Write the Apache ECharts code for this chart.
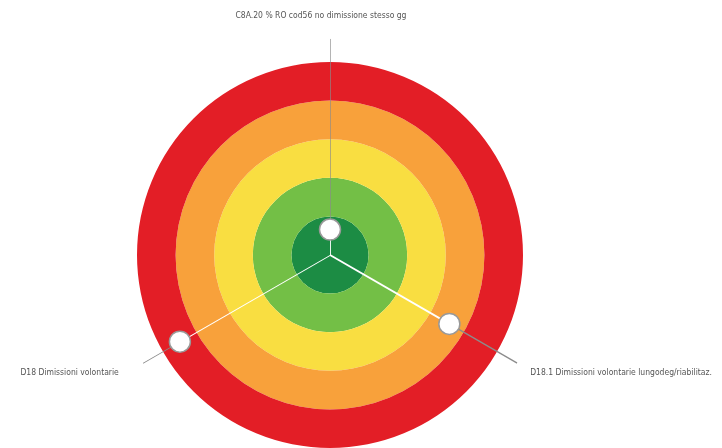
<!DOCTYPE html>
<html>
<head>
<meta charset="utf-8">
<script src="https://cdn.jsdelivr.net/npm/echarts@6/dist/echarts.min.js"></script>
<style>
	html, body { margin: 0; padding: 0; background: #fff; }
	#chart { width: 722px; height: 448px; }
</style>
</head>
<body>
<div id="chart"></div>
<script>
// indicators, clockwise from the top
var indicators = [
	"C8A.20 % RO cod56 no dimissione stesso gg",
	"D18.1 Dimissioni volontarie lungodeg/riabilitaz.",
	"D18 Dimissioni volontarie",
];
var values = [0.66, 3.57, 4.49];
// target bands, inner to outer
var bandColors = ["#1c8c44", "#73bf46", "#f9de41", "#f8a13b", "#e31e26"];
var bandMax = 5;
var leaderEnd = 5.6;

var chartDom = document.getElementById("chart");
var myChart = echarts.init(chartDom);

var labelFont = {
	fontFamily: "'Liberation Sans Narrow', 'DejaVu Sans Condensed', sans-serif",
	fontSize: 8.5,
	color: '#555',
};
var labelPos = [
	{ position: 'top', distance: 19, offset: [-9, 0] },
	{ position: 'right', distance: 13, offset: [0, 10] },
	{ position: 'left', distance: 24, offset: [0, 10] },
];

var series = [];
for (var i = 0; i < indicators.length; i++) {
	// white spoke from centre to the value
	series.push({
		type: 'line',
		coordinateSystem: 'polar',
		symbol: 'none',
		silent: true,
		clip: false,
		lineStyle: { color: '#fff', width: 1.8 },
		data: [[0, i], [values[i], i]],
		z: 2,
	});
	// grey leader from the value out to the label
	series.push({
		type: 'line',
		coordinateSystem: 'polar',
		symbol: 'circle',
		symbolSize: 0,
		showSymbol: true,
		silent: true,
		clip: false,
		lineStyle: { color: '#8c8c8c', width: 1.3 },
		data: [
			[values[i], i],
			{
				value: [leaderEnd, i],
				label: Object.assign({
					show: true,
					formatter: indicators[i],
				}, labelFont, labelPos[i]),
			},
		],
		z: 2,
	});
}
series.push({
	type: 'scatter',
	coordinateSystem: 'polar',
	symbol: 'circle',
	symbolSize: 21,
	itemStyle: { color: '#fff', borderColor: '#999', borderWidth: 1.5, opacity: 1 },
	data: values.map(function(v, i) { return [v, i]; }),
	z: 5,
});

var option = {
	animation: false,
	polar: {
		center: [330, 255],
		radius: 193 * leaderEnd / bandMax,
	},
	angleAxis: {
		type: 'category',
		data: indicators,
		startAngle: 90,
		clockwise: true,
		boundaryGap: false,
		axisLine: { show: false },
		axisTick: { show: false },
		axisLabel: { show: false },
		splitLine: { show: false },
	},
	radiusAxis: {
		type: 'value',
		min: 0,
		max: leaderEnd,
		interval: 1,
		axisLine: { show: false },
		axisTick: { show: false },
		axisLabel: { show: false },
		splitLine: { show: false },
		splitArea: {
			show: true,
			areaStyle: { color: bandColors.concat(['rgba(255,255,255,0)']) },
		},
	},
	series: series,
};

option && myChart.setOption(option);
</script>
</body>
</html>
